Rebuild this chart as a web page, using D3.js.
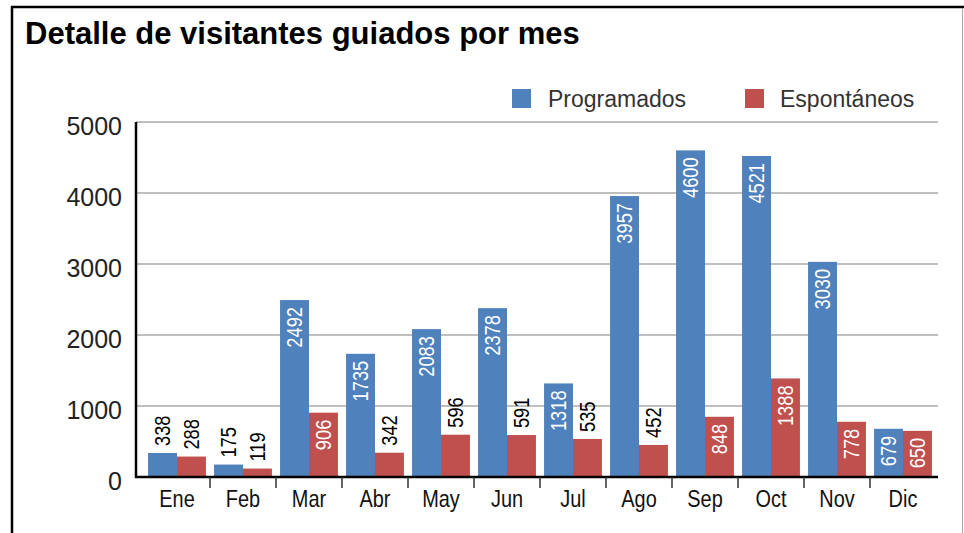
<!DOCTYPE html>
<html>
<head>
<meta charset="utf-8">
<script src="https://cdn.jsdelivr.net/npm/d3@7"></script>
<style>
    html, body { margin: 0; padding: 0; background: #fff; }
    svg { display: block; }
</style>
</head>
<body>
<div id="chart"></div>
<script>
// Data
const months = ["Ene", "Feb", "Mar", "Abr", "May", "Jun", "Jul", "Ago", "Sep", "Oct", "Nov", "Dic"];
const series = ["Programados", "Espontáneos"];
const programados = [338, 175, 2492, 1735, 2083, 2378, 1318, 3957, 4600, 4521, 3030, 679];
const espontaneos = [288, 119, 906, 342, 596, 591, 535, 452, 848, 1388, 778, 650];
// which value labels sit inside the bar (white) instead of above it
const progInside = [false, false, true, true, true, true, true, true, true, true, true, true];
const espInside = [false, false, true, false, false, false, false, false, true, true, true, true];
const yTicks = [0, 1000, 2000, 3000, 4000, 5000];

const colors = {
    Programados: "#4f81bd",
    "Espontáneos": "#c0504d"
};

const W = 964, H = 533;
const font = "'Liberation Sans', Helvetica, Arial, sans-serif";
const squeeze = 0.83; // fake condensed face for labels

const svg = d3.select("#chart").append("svg")
    .attr("width", W)
    .attr("height", H);

// Frame
svg.append("line").attr("x1", 11).attr("x2", 964).attr("y1", 7).attr("y2", 7)
    .attr("stroke", "#000").attr("stroke-width", 2.5);
svg.append("line").attr("x1", 12).attr("x2", 12).attr("y1", 6).attr("y2", H)
    .attr("stroke", "#000").attr("stroke-width", 2.5);
svg.append("line").attr("x1", 962.5).attr("x2", 962.5).attr("y1", 8).attr("y2", H)
    .attr("stroke", "#aaa").attr("stroke-width", 1);

// Title
svg.append("text")
    .attr("x", 25)
    .attr("y", 44)
    .style("font-family", font)
    .style("font-weight", "bold")
    .style("font-size", "31px")
    .attr("fill", "#000")
    .text("Detalle de visitantes guiados por mes");

// Scales
const axisLeftX = 136, axisRightX = 938;
const x0 = d3.scaleBand().domain(months).range([144, 936]).paddingInner(0).paddingOuter(0);
const x1 = d3.scaleBand().domain(series).range([0, x0.bandwidth()]).paddingInner(0).paddingOuter(0.14);
const y = d3.scaleLinear().domain([0, 5000]).range([477, 122]);

// Gridlines
svg.append("g")
    .selectAll("line")
    .data(yTicks.filter(d => d > 0))
    .join("line")
    .attr("x1", axisLeftX)
    .attr("x2", axisRightX)
    .attr("y1", d => y(d))
    .attr("y2", d => y(d))
    .attr("stroke", "#aaa")
    .attr("stroke-width", 1.5);

// Y tick labels
svg.append("g")
    .selectAll("text")
    .data(yTicks)
    .join("text")
    .attr("x", 122)
    .attr("y", d => y(d) + 4)
    .attr("dy", "0.35em")
    .attr("text-anchor", "end")
    .style("font-family", font)
    .style("font-size", "25px")
    .attr("fill", "#222")
    .text(d => d);

// Bars
const rows = months.map((m, i) => ({
    month: m,
    values: [
        { key: series[0], value: programados[i], inside: progInside[i] },
        { key: series[1], value: espontaneos[i], inside: espInside[i] }
    ]
}));

const groups = svg.append("g")
    .selectAll("g")
    .data(rows)
    .join("g")
    .attr("transform", d => `translate(${x0(d.month)},0)`);

groups.selectAll("rect")
    .data(d => d.values)
    .join("rect")
    .attr("x", d => x1(d.key))
    .attr("y", d => y(d.value))
    .attr("width", x1.bandwidth())
    .attr("height", d => y(0) - y(d.value))
    .attr("fill", d => colors[d.key]);

// Value labels (rotated)
groups.selectAll("text")
    .data(d => d.values)
    .join("text")
    .attr("transform", d => {
        const cx = x1(d.key) + x1.bandwidth() / 2;
        const ty = d.inside ? y(d.value) + 7 : y(d.value) - 7;
        return `translate(${cx},${ty}) rotate(-90) scale(${squeeze},1)`;
    })
    .attr("text-anchor", d => d.inside ? "end" : "start")
    .attr("dy", "0.36em")
    .style("font-family", font)
    .style("font-size", "22px")
    .attr("fill", d => d.inside ? "#fff" : "#000")
    .text(d => d.value);

// Axes lines
svg.append("line")
    .attr("x1", axisLeftX).attr("x2", axisLeftX)
    .attr("y1", y(5000)).attr("y2", y(0) + 1)
    .attr("stroke", "#000").attr("stroke-width", 2.5);

svg.append("line")
    .attr("x1", axisLeftX - 1).attr("x2", axisRightX)
    .attr("y1", y(0)).attr("y2", y(0))
    .attr("stroke", "#000").attr("stroke-width", 2.5);

// Category separators below axis
svg.append("g")
    .selectAll("line")
    .data(months.slice(1))
    .join("line")
    .attr("x1", d => x0(d))
    .attr("x2", d => x0(d))
    .attr("y1", y(0))
    .attr("y2", y(0) + 11)
    .attr("stroke", "#333")
    .attr("stroke-width", 1.5);

// Month labels
svg.append("g")
    .selectAll("text")
    .data(months)
    .join("text")
    .attr("transform", d => `translate(${x0(d) + x0.bandwidth() / 2},507) scale(${squeeze},1)`)
    .attr("text-anchor", "middle")
    .style("font-family", font)
    .style("font-size", "24px")
    .attr("fill", "#111")
    .text(d => d);

// Legend
const legend = svg.append("g");
const legendPos = [{ sq: 512, tx: 548 }, { sq: 745, tx: 780 }];
series.forEach((s, i) => {
    legend.append("rect")
        .attr("x", legendPos[i].sq).attr("y", 89)
        .attr("width", 19).attr("height", 19)
        .attr("fill", colors[s]);
    legend.append("text")
        .attr("x", legendPos[i].tx).attr("y", 99)
        .attr("dy", "0.35em")
        .style("font-family", font)
        .style("font-size", "23px")
        .attr("fill", "#333")
        .text(s);
});
</script>
</body>
</html>
